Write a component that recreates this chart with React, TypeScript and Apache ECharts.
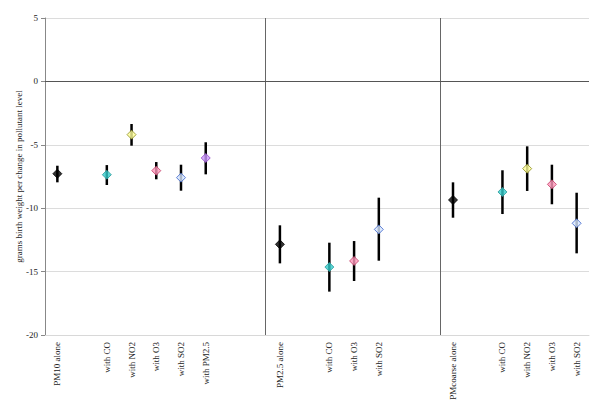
import React, { useEffect, useRef } from "react";
import * as echarts from "echarts";

const categories = [
  "PM10 alone", "", "with CO", "with NO2", "with O3", "with SO2", "with PM2.5", "", "",
  "PM2.5 alone", "", "with CO", "with O3", "with SO2", "", "",
  "PMcoarse alone", "", "with CO", "with NO2", "with O3", "with SO2",
];
const estimates = [
  -7.28, null, -7.36, -4.2, -7.04, -7.59, -6.04, null, null,
  -12.85, null, -14.64, -14.16, -11.67, null, null,
  -9.35, null, -8.72, -6.88, -8.12, -11.19,
];
const lowerCI = [
  -7.96, null, -8.17, -5.07, -7.72, -8.62, -7.33, null, null,
  -14.35, null, -16.58, -15.74, -14.14, null, null,
  -10.75, null, -10.46, -8.64, -9.69, -13.56,
];
const upperCI = [
  -6.65, null, -6.6, -3.36, -6.36, -6.57, -4.8, null, null,
  -11.35, null, -12.72, -12.59, -9.17, null, null,
  -7.96, null, -7.01, -5.12, -6.57, -8.78,
];
const yTicks = [5, 0, -5, -10, -15, -20];
const groupSeparators = [8.9, 16];

const markerStyles: Record<string, { fill: string; border: string }> = {
  alone: { fill: "#000000", border: "#000000" },
  "with CO": { fill: "#33CCCC", border: "#2A9A9A" },
  "with NO2": { fill: "#FFFF99", border: "#8C8C1E" },
  "with O3": { fill: "#FF99BB", border: "#C23A64" },
  "with SO2": { fill: "#D6E6FF", border: "#3A62C8" },
  "with PM2.5": { fill: "#CC99FF", border: "#8E44C4" },
};

function styleFor(label: string) {
  if (label.endsWith("alone")) return markerStyles.alone;
  return markerStyles[label] || markerStyles.alone;
}

export default function App() {
  const ref = useRef<HTMLDivElement>(null);
  useEffect(() => {
    if (!ref.current) return;
    const chart = echarts.init(ref.current, undefined, { renderer: "svg" });
    const font = "'Liberation Serif', 'Times New Roman', serif";

    const points: any[] = [];
    const bars: any[] = [];
    categories.forEach((c, i) => {
      const v = estimates[i];
      if (v === null || v === undefined) return;
      const s = styleFor(c);
      points.push({
        value: [i, v],
        itemStyle: { color: s.fill, borderColor: s.border, borderWidth: 1 },
      });
      bars.push([i, lowerCI[i], upperCI[i]]);
    });

    chart.setOption({
      animation: false,
      backgroundColor: "#ffffff",
      grid: { left: 45, right: 11, top: 18, bottom: 76, containLabel: false },
      xAxis: [
        {
          type: "category",
          data: categories,
          boundaryGap: true,
          position: "bottom",
          axisLine: { onZero: false, lineStyle: { color: "#d8d8d8", width: 1 } },
          axisTick: { show: false },
          axisLabel: {
            interval: 0,
            rotate: 90,
            margin: 7,
            fontFamily: font,
            fontSize: 9,
            color: "#222",
          },
        },
        {
          type: "value",
          min: 0,
          max: 22,
          show: false,
        },
      ],
      yAxis: {
        type: "value",
        min: -20,
        max: 5,
        interval: 5,
        name: "grams birth weight per change in pollutant level",
        nameLocation: "middle",
        nameGap: 22,
        nameMoveOverlap: false,
        nameTextStyle: { fontFamily: font, fontSize: 9, color: "#222" },
        axisLine: { show: true, lineStyle: { color: "#888", width: 1 } },
        axisTick: { show: true, length: 4, lineStyle: { color: "#888" } },
        axisLabel: {
          fontFamily: font,
          fontSize: 9,
          color: "#222",
          margin: 7,
          formatter: (v: number) => (yTicks.includes(v) ? String(v) : ""),
        },
        splitLine: { show: true, lineStyle: { color: "#dcdcdc", width: 1 } },
      },
      series: [
        {
          type: "line",
          xAxisIndex: 1,
          data: [],
          silent: true,
          markLine: {
            symbol: "none",
            silent: true,
            label: { show: false },
            lineStyle: { color: "#666", width: 1, type: "solid" },
            data: groupSeparators.map((x) => ({ xAxis: x })),
          },
        },
        {
          type: "line",
          xAxisIndex: 0,
          data: [],
          silent: true,
          markLine: {
            symbol: "none",
            silent: true,
            label: { show: false },
            lineStyle: { color: "#555", width: 1, type: "solid" },
            data: [{ yAxis: 0 }],
          },
        },
        {
          type: "custom",
          xAxisIndex: 0,
          data: bars,
          z: 3,
          renderItem: (params: any, api: any) => {
            const x = api.value(0);
            const lo = api.coord([x, api.value(1)]);
            const hi = api.coord([x, api.value(2)]);
            return {
              type: "line",
              shape: { x1: lo[0], y1: lo[1], x2: hi[0], y2: hi[1] },
              style: { stroke: "#000", lineWidth: 2.5 },
            };
          },
        },
        {
          type: "scatter",
          xAxisIndex: 0,
          symbol: "diamond",
          symbolSize: 9,
          z: 5,
          data: points,
        },
      ],
    });
    return () => chart.dispose();
  }, []);
  return <div ref={ref} style={{ width: 600, height: 411, margin: -8 }} />;
}
